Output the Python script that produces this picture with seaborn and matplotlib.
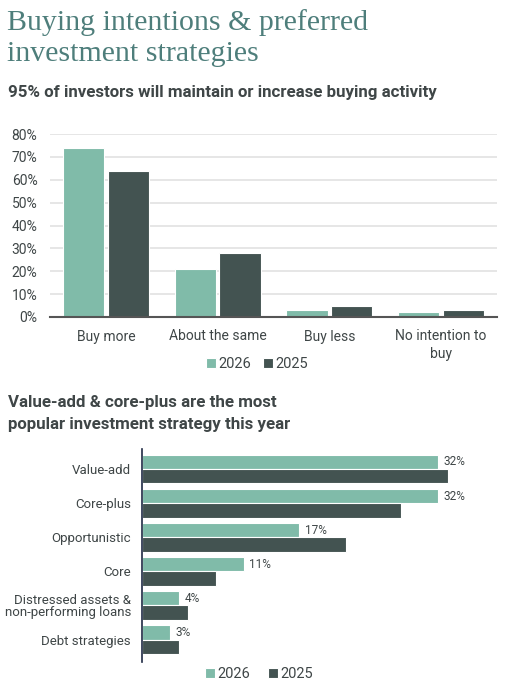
import matplotlib
matplotlib.use("Agg")
import matplotlib.pyplot as plt
import seaborn as sns
import pandas as pd
from matplotlib.ticker import FuncFormatter

# ---- data ----
intent_categories = ["Buy more", "About the same", "Buy less", "No intention to\nbuy"]
intent_2026 = [74, 21, 3, 2]
intent_2025 = [64, 28, 5, 3]

strategy_categories = ["Value-add", "Core-plus", "Opportunistic", "Core",
                       "Distressed assets &\nnon-performing loans", "Debt strategies"]
strategy_2026 = [32, 32, 17, 11, 4, 3]
strategy_2025 = [33, 28, 22, 8, 5, 4]

years = ["2026", "2025"]
y_ticks = [0, 10, 20, 30, 40, 50, 60, 70, 80]

TEAL = "#80BBA9"
DARK = "#435351"
TEXT = "#3f4647"
palette = {"2026": TEAL, "2025": DARK}

df_int = pd.DataFrame({
    "category": intent_categories * 2,
    "year": ["2026"] * 4 + ["2025"] * 4,
    "value": intent_2026 + intent_2025,
})
df_str = pd.DataFrame({
    "category": strategy_categories * 2,
    "year": ["2026"] * 6 + ["2025"] * 6,
    "value": strategy_2026 + strategy_2025,
})

sns.set_theme(style="white")
plt.rcParams["font.family"] = ["Roboto", "DejaVu Sans"]

fig = plt.figure(figsize=(5.08, 6.96), dpi=100)

# Titles
serif = ["Liberation Serif", "DejaVu Serif"]
fig.text(7/508, 1 - 30/696, "Buying intentions & preferred",
         ha="left", va="baseline", fontsize=21.5, color="#4E7E7B", family=serif)
fig.text(7/508, 1 - 61/696, "investment strategies",
         ha="left", va="baseline", fontsize=21.5, color="#4E7E7B", family=serif)
fig.text(8/508, 1 - 93/696, "95% of investors will maintain or increase buying activity",
         ha="left", va="center", fontsize=12.2, fontweight="bold", color=TEXT)
fig.text(8/508, 1 - 402/696, "Value-add & core-plus are the most",
         ha="left", va="center", fontsize=12.2, fontweight="bold", color=TEXT)
fig.text(8/508, 1 - 425/696, "popular investment strategy this year",
         ha="left", va="center", fontsize=12.2, fontweight="bold", color=TEXT)

# ---- top chart ----
ax1 = fig.add_axes([50/508, 1 - 317/696, 447/508, 183/696])
sns.barplot(data=df_int, x="category", y="value", hue="year", hue_order=years,
            palette=palette, width=0.8, gap=0.08, edgecolor="white", linewidth=0.8,
            saturation=1, ax=ax1, legend=True)
ax1.set_ylim(0, 80)
ax1.set_xlim(-0.5, 3.5)
ax1.set_yticks(y_ticks)
ax1.yaxis.set_major_formatter(FuncFormatter(lambda v, p: f"{int(v)}%"))
ax1.grid(axis="y", color="#e6e6e6", linewidth=1.4)
ax1.set_axisbelow(True)
for s in ["top", "right", "left"]:
    ax1.spines[s].set_visible(False)
ax1.spines["bottom"].set_color("#555555")
ax1.spines["bottom"].set_linewidth(1.5)
ax1.set_xlabel("")
ax1.set_ylabel("")
ax1.tick_params(axis="y", length=0, pad=9, labelsize=10, labelcolor=TEXT)
ax1.tick_params(axis="x", length=0, pad=9, labelsize=10, labelcolor=TEXT)
for lbl in ax1.get_xticklabels():
    lbl.set_linespacing(1.35)
sns.move_legend(ax1, "center", bbox_to_anchor=(257/508, 1 - 364/696),
                bbox_transform=fig.transFigure, ncol=2, frameon=False, title=None,
                handlelength=0.7, handleheight=0.7, handletextpad=0.15,
                columnspacing=0.8, fontsize=10.5, labelcolor=TEXT)

# ---- bottom chart ----
ax2 = fig.add_axes([142/508, 1 - 662/696, 352/508, 213/696])
sns.barplot(data=df_str, y="category", x="value", hue="year", hue_order=years,
            palette=palette, orient="h", width=0.84, edgecolor="white", linewidth=0.8,
            saturation=1, ax=ax2, legend=True)
ax2.set_xlim(0, 38)
ax2.set_ylim(5.66, -0.59)
ax2.bar_label(ax2.containers[0], labels=[f"{v}%" for v in strategy_2026],
              padding=4, fontsize=8.5, color=TEXT)
for s in ["top", "right", "bottom"]:
    ax2.spines[s].set_visible(False)
ax2.spines["left"].set_color("#1f2a44")
ax2.spines["left"].set_linewidth(1.2)
ax2.set_xticks([])
ax2.set_xlabel("")
ax2.set_ylabel("")
ax2.tick_params(axis="y", length=0, pad=8, labelsize=9.5, labelcolor=TEXT)
for lbl in ax2.get_yticklabels():
    lbl.set_multialignment("right")
    lbl.set_linespacing(0.95)
sns.move_legend(ax2, "center", bbox_to_anchor=(259/508, 1 - 674/696),
                bbox_transform=fig.transFigure, ncol=2, frameon=False, title=None,
                handlelength=0.7, handleheight=0.7, handletextpad=0.15,
                columnspacing=1.2, fontsize=10.5, labelcolor=TEXT)

fig.savefig("out.png", dpi=100, facecolor="white")
